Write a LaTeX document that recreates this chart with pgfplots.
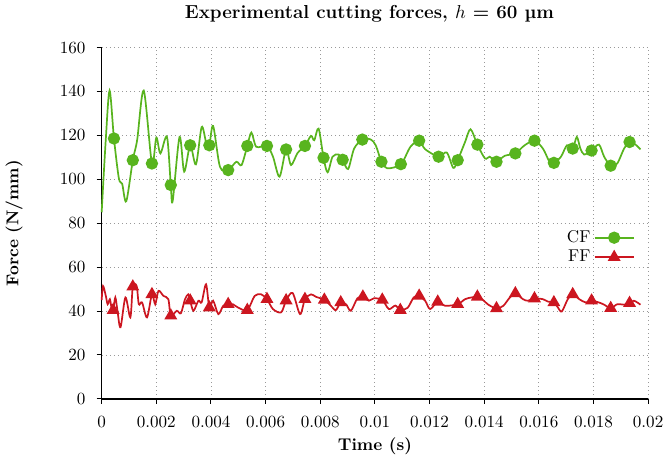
\documentclass[border=0pt]{standalone}
\usepackage{pgfplots}
\pgfplotsset{compat=1.18}
\definecolor{cfgreen}{RGB}{88,180,30}
\definecolor{ffred}{RGB}{204,22,32}
\begin{document}
\begin{tikzpicture}
\begin{axis}[
  scale only axis,
  width=320pt, height=205.7pt,
  xmin=0, xmax=0.02, ymin=0, ymax=160,
  axis lines=left, axis line style={-, black, line width=0.8pt},
  tick align=outside, major tick length=3pt,
  tick style={black, line width=0.6pt},
  xtick={0,0.002,0.004,0.006,0.008,0.01,0.012,0.014,0.016,0.018,0.02},
  xticklabels={0,0.002,0.004,0.006,0.008,0.01,0.012,0.014,0.016,0.018,0.02},
  ytick={0,20,40,60,80,100,120,140,160},
  xticklabel style={yshift=-3.5pt},
  yticklabel style={xshift=-3pt},
  scaled x ticks=false,
  grid=major,
  major grid style={gray!80, dotted, line width=0.5pt},
  xlabel={\textbf{Time (s)}},
  ylabel={\textbf{Force (N/mm)}},
  xlabel style={at={(axis description cs:0.5,-0.136)}, anchor=center},
  ylabel style={at={(axis description cs:-0.16,0.5)}, anchor=center},
  title={\fontsize{11}{13}\selectfont\textbf{Experimental cutting forces, $h$ = 60 \textmu m}},
  title style={at={(axis description cs:0.49,1.066)}, anchor=center},
  legend plot pos=right,
  legend cell align=right,
  legend style={draw=none, fill=none, at={(0.985,0.5)}, anchor=north east, font=\normalsize, row sep=-1pt},
  clip=false,
]
\addplot[cfgreen, line width=1pt, smooth, tension=0.5, forget plot] coordinates {
(0,85) (0.00015,118) (0.00029,140.4) (0.00045,118.6) (0.00063,100.4) (0.00075,98)
(0.0009,90) (0.00114,108.7) (0.0013,118) (0.00154,140.4) (0.00184,107.2) (0.002,119)
(0.00215,111.8) (0.00239,119.3) (0.00253,97.4) (0.0026,90.2) (0.00285,119.3) (0.00302,103.5)
(0.00324,115.5) (0.00345,106.8) (0.00366,123.8) (0.00382,117) (0.00394,115.5) (0.00408,124.3)
(0.00433,105.7) (0.00463,104.2) (0.00493,108) (0.00512,106.5) (0.00533,115.2) (0.00548,121.3)
(0.00566,114.8) (0.00605,115.2) (0.00627,110.3) (0.00651,101.2) (0.00675,113.6) (0.00693,106.5)
(0.00717,112) (0.00744,115.2) (0.00766,119.8) (0.00778,117.8) (0.00794,123.1) (0.00812,109.8)
(0.00827,103.2) (0.00845,110.3) (0.00867,111.3) (0.00882,108.9) (0.00902,104.7) (0.00924,114)
(0.00954,118.1) (0.00984,118.2) (0.01003,115.5) (0.01024,108) (0.01045,105) (0.01095,106.9)
(0.0113,114.8) (0.01162,117.6) (0.01184,113.7) (0.01233,110.3) (0.01263,112.2) (0.01287,105.2)
(0.01303,108.7) (0.0133,117) (0.0135,122.8) (0.01375,115.8) (0.01403,109.5) (0.0142,110.3)
(0.01445,108) (0.01475,110.7) (0.01514,111.8) (0.01548,115.5) (0.01584,117.6) (0.01615,114)
(0.01639,108) (0.01655,107.5) (0.01681,110.3) (0.01703,115.5) (0.01724,114) (0.01739,119.3)
(0.01752,114) (0.01766,111.3) (0.01793,113.1) (0.0182,115.8) (0.01839,110.3) (0.01863,106.2)
(0.01887,107.2) (0.01912,114) (0.01932,117) (0.01954,115.8) (0.01972,113.6)
};
\addplot[cfgreen, only marks, mark=*, mark size=3.1pt, line width=1pt,
  legend image code/.code={\draw[sharp plot, mark repeat=2, mark phase=2] plot coordinates {(0cm,0cm) (0.4cm,0cm) (0.8cm,0cm)};}]
coordinates {
(0.00045,118.6) (0.00114,108.7) (0.00184,107.2) (0.00253,97.4) (0.00324,115.5) (0.00394,115.5)
(0.00463,104.2) (0.00533,115.2) (0.00605,115.2) (0.00675,113.6) (0.00744,115.2) (0.00812,109.8)
(0.00882,108.9) (0.00954,118.1) (0.01024,108) (0.01095,106.9) (0.01162,117.6) (0.01233,110.3)
(0.01303,108.7) (0.01375,115.8) (0.01445,108) (0.01514,111.8) (0.01584,117.6) (0.01655,107.5)
(0.01724,114) (0.01793,113.1) (0.01863,106.2) (0.01932,117)
};
\addlegendentry{CF}
\addplot[ffred, line width=1pt, smooth, tension=0.5, forget plot] coordinates {
(0,45) (0.00005,51.4) (0.00015,47) (0.00022,43.1) (0.0003,45.4) (0.00036,41.6) (0.00042,40.4)
(0.0005,46.2) (0.00058,40) (0.00069,32.6) (0.00087,46.2) (0.00105,37.1) (0.00114,51.1)
(0.00128,51.4) (0.00136,43.1) (0.00148,43.9) (0.00166,37.1) (0.00184,47.6) (0.00196,43.1)
(0.00208,49.2) (0.00226,46.9) (0.00244,45.4) (0.00253,37.9) (0.00275,40.1) (0.0029,39)
(0.00305,45.4) (0.00317,47.6) (0.00324,44.7) (0.00336,40.1) (0.00354,44.7) (0.00366,44)
(0.00382,52.2) (0.00394,41.6) (0.00408,44.7) (0.00427,38.6) (0.00445,42.4) (0.00463,43.1)
(0.0048,43.1) (0.00499,41.6) (0.00533,40.4) (0.0056,46.9) (0.00584,47.6) (0.00605,45.4)
(0.00627,40.9) (0.00657,39.4) (0.00675,44.8) (0.00699,48.2) (0.00726,38.6) (0.00744,45.4)
(0.00766,47.6) (0.00784,46.5) (0.00815,45.1) (0.00839,42.4) (0.00857,40.4) (0.00875,43.9)
(0.00895,43) (0.00912,40.1) (0.00936,45.8) (0.00956,46.5) (0.00978,44.7) (0.00996,45.8)
(0.01027,45.1) (0.01051,40.9) (0.01075,42.5) (0.01093,40.4) (0.0112,41.5) (0.01142,46.2)
(0.01162,46.9) (0.01184,44.7) (0.01202,40.9) (0.0123,44.2) (0.01257,42.4) (0.01303,43.1)
(0.0133,45.4) (0.01354,46.2) (0.01375,46.5) (0.01397,44.9) (0.01415,42.9) (0.01445,41.2)
(0.0147,42.4) (0.01494,46.2) (0.01514,48) (0.01542,45.4) (0.0156,44.7) (0.01584,45.7)
(0.01615,45.4) (0.01633,44.3) (0.01655,43.9) (0.0167,41.6) (0.01684,39.8) (0.01706,45.4)
(0.01724,47.6) (0.01748,45.4) (0.01772,43.9) (0.01793,44.7) (0.0182,43.9) (0.01839,42.9)
(0.01863,41.3) (0.01887,43.1) (0.01912,42.9) (0.01932,43.6) (0.01948,44.7) (0.01972,42.9)
};
\addplot[ffred, only marks, mark=triangle*, mark size=3.4pt, line width=1pt,
  legend image code/.code={\draw[sharp plot, mark repeat=2, mark phase=2] plot coordinates {(0cm,0cm) (0.4cm,0cm) (0.8cm,0cm)};}]
coordinates {
(0.00042,40.4) (0.00114,51.1) (0.00184,47.6) (0.00253,37.9) (0.00324,44.7) (0.00394,41.6)
(0.00463,43.1) (0.00533,40.4) (0.00605,45.4) (0.00675,44.8) (0.00744,45.4) (0.00815,45.1)
(0.00875,43.9) (0.00956,46.5) (0.01027,45.1) (0.01093,40.4) (0.01162,46.9) (0.0123,44.2)
(0.01303,43.1) (0.01375,46.5) (0.01445,41.2) (0.01514,48) (0.01584,45.7) (0.01655,43.9)
(0.01724,47.6) (0.01793,44.7) (0.01863,41.3) (0.01932,43.6)
};
\addlegendentry{FF}
\end{axis}
\end{tikzpicture}
\end{document}
